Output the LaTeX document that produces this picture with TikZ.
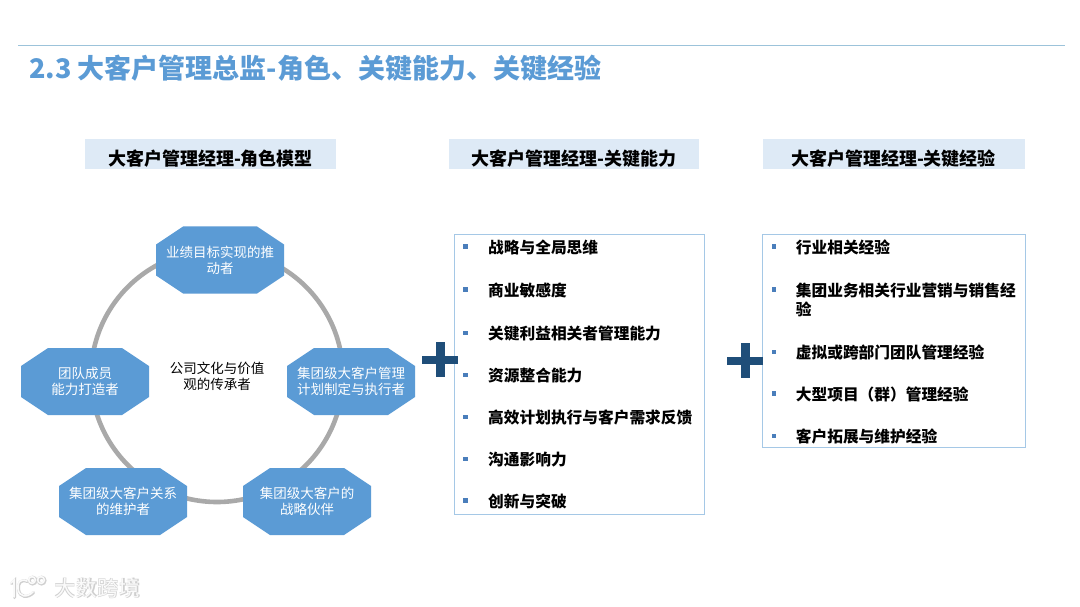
\documentclass[tikz,border=0pt]{standalone}
\usepackage{fontspec}
\setmainfont{Noto Sans CJK SC}
\usetikzlibrary{shapes.geometric}
\definecolor{octblue}{HTML}{5B9BD5}
\definecolor{rulec}{HTML}{9CC3DA}
\definecolor{headc}{HTML}{DEEAF6}
\definecolor{boxc}{HTML}{A5C8E6}
\definecolor{plusc}{HTML}{1F4E79}
\definecolor{bulc}{HTML}{4A7EBB}
\definecolor{ringc}{HTML}{A9A9A9}
\definecolor{wmc}{HTML}{FAFAFA}
\definecolor{wmo}{HTML}{CFCFCF}
\tikzset{
  x=1pt,y=-1pt,
  octtext/.style={text=white,font=\fontsize{13.5}{16}\selectfont,align=center},
  headbox/.style={fill=headc,draw=none,minimum height=30pt,inner sep=0pt,anchor=north west},
  headtext/.style={font=\fontsize{18}{20}\selectfont\bfseries,text=black,inner sep=0pt},
  listbox/.style={draw=boxc,line width=1pt,fill=white,inner sep=0pt,anchor=north west},
  itemtext/.style={font=\fontsize{15.7}{19}\selectfont\bfseries,text=black,anchor=west,inner sep=0pt,align=left},
  bul/.style={fill=bulc,draw=none,minimum size=4.6pt,inner sep=0pt},
}
\newcommand{\octagon}[3]{% name, cx, cy
  \fill[octblue] (#2-64,#3-15.5) -- (#2-37,#3-33.5) -- (#2+37,#3-33.5) -- (#2+64,#3-15.5)
    -- (#2+64,#3+15.5) -- (#2+37,#3+33.5) -- (#2-37,#3+33.5) -- (#2-64,#3+15.5) -- cycle;
  \coordinate (#1) at (#2,#3);
}
\newcommand{\plusmark}[2]{%
  \fill[plusc] (#1-4.5,#2-17.5) rectangle (#1+4.5,#2+17.5);
  \fill[plusc] (#1-18,#2-4) rectangle (#1+18,#2+4);
}
\newcommand{\wmlogo}[3]{% colour, width, offset
  \begin{scope}[shift={(#3,#3)}]
  \draw[#1,line width=#2,line cap=round] (11,583) -- (14,580) -- (14,597);
  \draw[#1,line width=#2,line cap=round] (27,581) .. controls (20,578) and (17,583) .. (18,589) .. controls (19,597) and (27,598) .. (33,592);
  \draw[#1,line width=#2] (32,580) circle (3.4);
  \draw[#1,line width=#2] (41,580) circle (3.4);
  \end{scope}
}
\begin{document}
\begin{tikzpicture}
\useasboundingbox (0,0) rectangle (1080,607);
\fill[white] (0,0) rectangle (1080,607);
% header
\draw[rulec,line width=1pt] (18,45.5) -- (1065,45.5);
\node[anchor=west,inner sep=0pt,text=octblue,font=\fontsize{27}{30}\selectfont\bfseries] (title) at (29,68.5) {2.3 大客户管理总监-角色、关键能力、关键经验};
% column heads
\node[headbox,minimum width=251pt] (h1) at (85,139) {};
\node[headbox,minimum width=250pt] (h2) at (449,139) {};
\node[headbox,minimum width=262pt] (h3) at (763,139) {};
\node[headtext] (ht1) at (210.5,159) {大客户管理经理-角色模型};
\node[headtext] (ht2) at (574,159) {大客户管理经理-关键能力};
\node[headtext] (ht3) at (893.5,159) {大客户管理经理-关键经验};
% ring
\draw[ringc,line width=4.6pt] (217,376) circle (126);
% octagons
\octagon{o1}{220}{260}
\octagon{o2}{351}{381.5}
\octagon{o3}{85}{381.5}
\octagon{o4}{123}{501.5}
\octagon{o5}{307}{501.5}
\node[octtext] (t1) at (o1) {业绩目标实现的推\\动者};
\node[octtext] (t2) at (o2) {集团级大客户管理\\计划制定与执行者};
\node[octtext] (t3) at (o3) {团队成员\\能力打造者};
\node[octtext] (t4) at (o4) {集团级大客户关系\\的维护者};
\node[octtext] (t5) at (o5) {集团级大客户的\\战略伙伴};
\node[font=\fontsize{13.5}{16}\selectfont,align=center,text=black,inner sep=0pt] (c) at (217,376) {公司文化与价值\\观的传承者};
% list boxes
\node[listbox,minimum width=250pt,minimum height=279pt] (b2) at (454,234.5) {};
\node[listbox,minimum width=263pt,minimum height=212.5pt] (b3) at (761.8,234.5) {};
% plus marks
\plusmark{440}{359.5}
\plusmark{745}{360.5}
% list 2
\foreach \yy/\lbl [count=\ii] in {247/战略与全局思维,290/商业敏感度,333.5/关键利益相关者管理能力,375.5/资源整合能力,417.5/高效计划执行与客户需求反馈,459.5/沟通影响力,501/创新与突破}{
  \node[bul] (ba\ii) at (465.7,\yy-0.5) {};
  \node[itemtext] (ia\ii) at (488,\yy) {\lbl};
}
% list 3
\foreach \yy/\lbl [count=\ii] in {247/行业相关经验,352.5/虚拟或跨部门团队管理经验,394/大型项目（群）管理经验,436.5/客户拓展与维护经验}{
  \node[bul] (bb\ii) at (774,\yy-0.5) {};
  \node[itemtext] (ib\ii) at (795.7,\yy) {\lbl};
}
\node[bul] (bb5) at (774,289.5) {};
\node[itemtext,anchor=west] (ib5) at (795.7,299.5) {集团业务相关行业营销与销售经\\验};
% watermark
\wmlogo{wmo}{3pt}{0.6}
\wmlogo{wmc}{1.6pt}{0}
\node[anchor=west,inner sep=0pt,text=wmo,font=\fontsize{21.5}{24}\selectfont\bfseries] (wmb) at (54.6,588.6) {大数跨境};
\node[anchor=west,inner sep=0pt,text=wmc,font=\fontsize{21.5}{24}\selectfont] (wm) at (54,588) {大数跨境};
\end{tikzpicture}
\end{document}
